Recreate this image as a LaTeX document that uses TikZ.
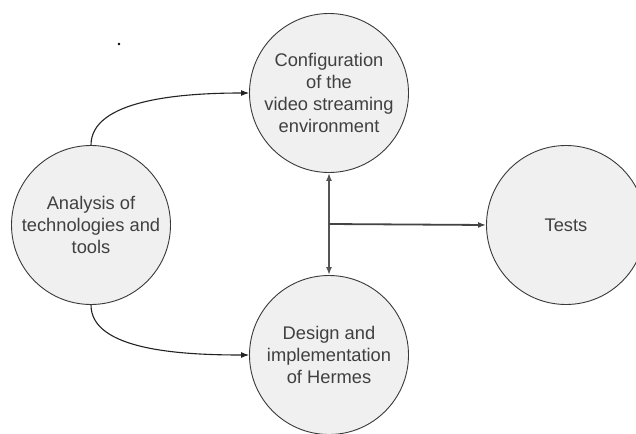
\documentclass[tikz,border=0pt]{standalone}
\usepackage{fontspec}
\setmainfont{Liberation Sans}
\usetikzlibrary{arrows.meta}
\definecolor{circfill}{HTML}{F0F0F0}
\definecolor{circline}{HTML}{3A3A3A}
\definecolor{txtcol}{HTML}{404040}
\definecolor{linecol}{HTML}{222222}
\definecolor{stemcol}{HTML}{555555}
\begin{document}
\begin{tikzpicture}[x=1pt,y=-1pt,
  bubble/.style={circle,draw=circline,fill=circfill,line width=0.9pt,minimum size=159pt,inner sep=0pt,
    align=center,text=txtcol,font=\fontsize{18.3}{22}\selectfont},
  arr/.style={draw=linecol,line width=1.1pt,-{Latex[length=8pt,width=6pt]}},
  stem/.style={draw=stemcol,line width=1.8pt,{Latex[length=8pt,width=6pt]}-{Latex[length=8pt,width=6pt]}},
  hline/.style={draw=stemcol!80!black,line width=1.8pt,-{Latex[length=8pt,width=6pt]}}]
\useasboundingbox (0,0) rectangle (636,433);
\clip (0,0) rectangle (636,433);
\fill[white] (0,0) rectangle (636,433);
\node[bubble] (cfg) at (329,93) {Configuration\\of the\\video streaming\\environment};
\node[bubble] (ana) at (91,225) {Analysis of\\technologies and\\tools};
\node[bubble] (tst) at (566,225) {Tests};
\node[bubble] (des) at (329,355) {Design and\\implementation\\of Hermes};
\fill[black] (119,44) circle (1.3pt);
\coordinate (dotpt) at (119,44);
\draw[arr] (ana.north) .. controls (91,100) and (180,93) .. (cfg.west);
\draw[arr] (ana.south) .. controls (91,350) and (180,355) .. (des.west);
\draw[stem] (cfg.south) -- (des.north);
\coordinate (junc) at (329,224);
\draw[hline] (junc) -- (tst.west);
\end{tikzpicture}
\end{document}
